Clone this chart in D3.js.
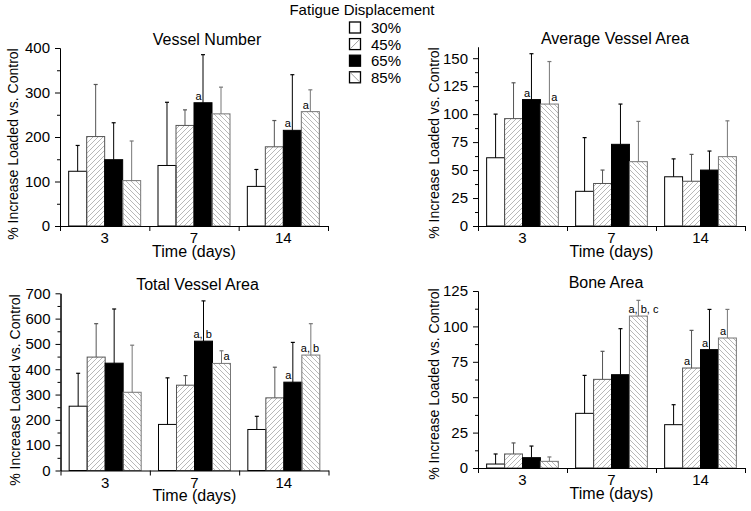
<!DOCTYPE html>
<html>
<head>
<meta charset="utf-8">
<script src="https://d3js.org/d3.v7.min.js"></script>
<style>
  body { margin: 0; background: #fff; }
  text { font-family: "Liberation Sans", Arial, sans-serif; fill: #000; }
</style>
</head>
<body>
<script>
  // categories
  var days = ["3", "7", "14"];
  var groups = ["30%", "45%", "65%", "85%"];

  // means and SD, indexed [day][group]
  var vesselNumber   = [[123, 201, 149, 102], [136, 226, 277, 252], [89, 178, 215, 257]];
  var vesselNumberSD = [[58, 117, 83, 89], [142, 35, 108, 60], [38, 59, 125, 49]];
  var vesselNumberTicks = [0, 100, 200, 300, 400];

  var avgArea   = [[61, 96, 113, 109], [31, 38, 73, 57.5], [44, 40, 50, 62]];
  var avgAreaSD = [[39, 32, 41, 38], [48, 12, 36, 36], [16, 24, 17, 32]];
  var avgAreaTicks = [0, 25, 50, 75, 100, 125, 150];

  var totalArea   = [[254, 448, 424, 309], [182, 337, 511, 423], [162, 287, 349, 456]];
  var totalAreaSD = [[130, 132, 214, 186], [184, 38, 159, 50], [52, 121, 157, 124]];
  var totalAreaTicks = [0, 100, 200, 300, 400, 500, 600, 700];

  var boneArea   = [[2.8, 9.9, 7.3, 4.7], [38.6, 62.6, 65.9, 107.3], [30.6, 70.6, 83.6, 91.8]];
  var boneAreaSD = [[7.1, 7.8, 8.2, 3.1], [26.8, 19.8, 32.5, 11.1], [14.1, 26.6, 28.4, 20.2]];
  var boneAreaTicks = [0, 25, 50, 75, 100, 125];

  // significance letters: day, group, text, which side of the error line
  var vesselNumberSig = [["7", "65%", "a", "L"], ["14", "65%", "a", "L"], ["14", "85%", "a", "L"]];
  var avgAreaSig = [["3", "65%", "a", "L"], ["3", "85%", "a", "R"]];
  var totalAreaSig = [["7", "65%", "a, b", "C"], ["7", "85%", "a", "R"], ["14", "65%", "a", "L"], ["14", "85%", "a, b", "C"]];
  var boneAreaSig = [["7", "85%", "a, b, c", "C"], ["14", "45%", "a", "L"], ["14", "65%", "a", "L"], ["14", "85%", "a", "L"]];

  var fills   = ["#fff", "url(#hatchF)", "#000", "url(#hatchB)"];
  var strokes = ["#000", "#555", "#000", "#777"];
  var errCol  = ["#000", "#555", "#000", "#777"];

  var panels = [
    {title: "Vessel Number", mean: vesselNumber, sd: vesselNumberSD, ticks: vesselNumberTicks, minor: 50, max: 400,
     sig: vesselNumberSig, xr: [60, 328], yr: [226, 48], titleX: 207, labX: 18, labY: 144},
    {title: "Average Vessel Area", mean: avgArea, sd: avgAreaSD, ticks: avgAreaTicks, minor: 12.5, max: 160,
     sig: avgAreaSig, xr: [478, 745], yr: [226, 47], titleX: 615, labX: 439, labY: 143},
    {title: "Total Vessel Area", mean: totalArea, sd: totalAreaSD, ticks: totalAreaTicks, minor: 50, max: 700,
     sig: totalAreaSig, xr: [60.5, 328.5], yr: [470.5, 293.3], titleX: 197.5, labX: 19.5, labY: 390},
    {title: "Bone Area", mean: boneArea, sd: boneAreaSD, ticks: boneAreaTicks, minor: 12.5, max: 125,
     sig: boneAreaSig, xr: [478, 745], yr: [468, 291], titleX: 606, labX: 439, labY: 384}
  ];

  var svg = d3.select("body")
    .append("svg")
      .attr("width", 751)
      .attr("height", 511);

  var defs = svg.append("defs");
  defs.append("pattern")
      .attr("id", "hatchF")
      .attr("patternUnits", "userSpaceOnUse")
      .attr("width", 5).attr("height", 5)
    .append("path")
      .attr("d", "M0,5L5,0M-1,1L1,-1M4,6L6,4")
      .attr("stroke", "#999").attr("stroke-width", 0.7);
  defs.append("pattern")
      .attr("id", "hatchB")
      .attr("patternUnits", "userSpaceOnUse")
      .attr("width", 5).attr("height", 5)
    .append("path")
      .attr("d", "M0,0L5,5M-1,4L1,6M4,-1L6,1")
      .attr("stroke", "#999").attr("stroke-width", 0.7);

  panels.forEach(function(p) {
    var g = svg.append("g");

    var x0 = d3.scaleBand().domain(days).range(p.xr).paddingInner(0.194).paddingOuter(0.097);
    var x1 = d3.scaleBand().domain(groups).range([0, x0.bandwidth()]);
    var xb = d3.scaleLinear().domain([0, days.length]).range(p.xr);
    var y = d3.scaleLinear().domain([0, p.max]).range(p.yr);

    // bars + error bars
    days.forEach(function(d, i) {
      groups.forEach(function(s, j) {
        var v = p.mean[i][j], e = p.sd[i][j];
        var bx = x0(d) + x1(s), bw = x1.bandwidth();
        g.append("rect")
          .attr("x", bx).attr("y", y(v))
          .attr("width", bw).attr("height", y(0) - y(v))
          .attr("fill", fills[j])
          .attr("stroke", strokes[j]).attr("stroke-width", 1);
        var cx = bx + bw / 2;
        g.append("line")
          .attr("x1", cx).attr("x2", cx)
          .attr("y1", y(v)).attr("y2", y(v + e))
          .attr("stroke", errCol[j]).attr("stroke-width", 1);
        g.append("line")
          .attr("x1", cx - 2).attr("x2", cx + 2)
          .attr("y1", y(v + e)).attr("y2", y(v + e))
          .attr("stroke", errCol[j]).attr("stroke-width", 1.2);
      });
    });

    // significance letters
    p.sig.forEach(function(a) {
      var i = days.indexOf(a[0]), j = groups.indexOf(a[1]);
      var bx = x0(a[0]) + x1(a[1]), bw = x1.bandwidth();
      var t = g.append("text")
        .attr("y", y(p.mean[i][j]) - 3)
        .style("font-size", "11px")
        .text(a[2]);
      if (a[3] == "L") t.attr("x", bx + 1.5);
      else if (a[3] == "R") t.attr("x", bx + bw - 1).style("text-anchor", "end");
      else t.attr("x", bx - 1);
    });

    // axes
    var minorTicks = d3.range(0, p.max + 0.01, p.minor).filter(function(t) { return p.ticks.indexOf(t) < 0; });
    g.append("g")
        .attr("transform", "translate(" + p.xr[0] + ",0)")
        .call(d3.axisLeft(y).tickValues(minorTicks).tickSize(3).tickSizeOuter(0).tickFormat(""));
    g.append("g")
        .attr("transform", "translate(" + p.xr[0] + ",0)")
        .call(d3.axisLeft(y).tickValues(p.ticks).tickSize(5).tickPadding(5).tickSizeOuter(0))
        .selectAll("text")
          .style("font-size", "15px")
          .style("font-family", "'Liberation Sans', Arial, sans-serif");
    g.append("g")
        .attr("transform", "translate(0," + p.yr[0] + ")")
        .call(d3.axisBottom(xb).tickValues(d3.range(0, days.length + 1)).tickSize(5).tickSizeOuter(0).tickFormat(""));

    days.forEach(function(d) {
      g.append("text")
        .attr("x", x0(d) + x0.bandwidth() / 2)
        .attr("y", p.yr[0] + 17)
        .style("text-anchor", "middle")
        .style("font-size", "15px")
        .text(d);
    });

    g.append("text")
      .attr("x", (p.xr[0] + p.xr[1]) / 2)
      .attr("y", p.yr[0] + 30.5)
      .style("text-anchor", "middle")
      .style("font-size", "16px")
      .text("Time (days)");

    g.append("text")
      .attr("x", p.titleX)
      .attr("y", p.yr[1] - 3)
      .style("text-anchor", "middle")
      .style("font-size", "16px")
      .text(p.title);

    g.append("text")
      .attr("transform", "translate(" + p.labX + "," + p.labY + ")rotate(-90)")
      .style("text-anchor", "middle")
      .style("font-size", "14px")
      .text("% Increase Loaded vs. Control");
  });

  // legend
  var leg = svg.append("g");
  leg.append("text")
    .attr("x", 362).attr("y", 15)
    .style("text-anchor", "middle")
    .style("font-size", "15px")
    .text("Fatigue Displacement");
  groups.forEach(function(s, j) {
    var ly = 22 + j * 16.6;
    leg.append("rect")
      .attr("x", 349.5).attr("y", ly)
      .attr("width", 11).attr("height", 11)
      .attr("fill", j == 2 ? "#000" : "#fff")
      .attr("stroke", "#000").attr("stroke-width", 1.3);
    if (j == 1) leg.append("line").attr("x1", 350).attr("y1", ly + 10.5).attr("x2", 360).attr("y2", ly + 0.5)
      .attr("stroke", "#888").attr("stroke-width", 0.8);
    if (j == 3) leg.append("line").attr("x1", 350).attr("y1", ly + 0.5).attr("x2", 360).attr("y2", ly + 10.5)
      .attr("stroke", "#888").attr("stroke-width", 0.8);
    leg.append("text")
      .attr("x", 371).attr("y", ly + 11)
      .style("font-size", "15px")
      .text(s);
  });
</script>
</body>
</html>
